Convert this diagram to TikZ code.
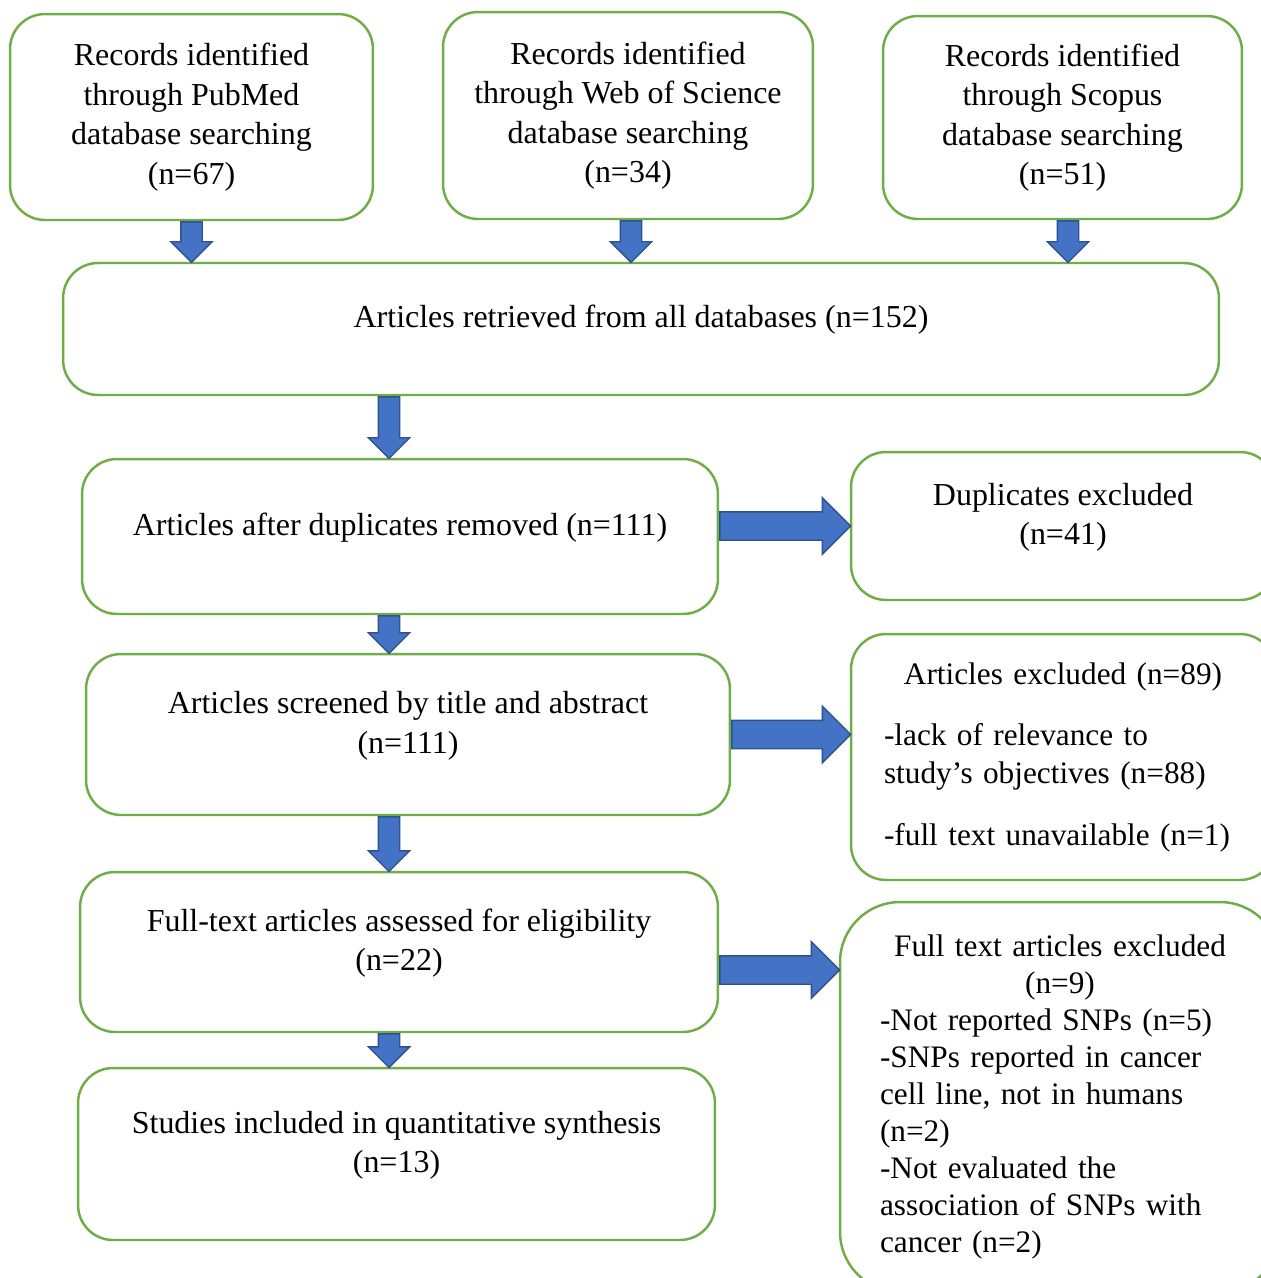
\documentclass[tikz,border=0pt]{standalone}
\usepackage{fontspec}
\setmainfont{Liberation Serif}
\usetikzlibrary{shapes.arrows, calc, positioning}

\definecolor{boxgreen}{HTML}{70AD47}
\definecolor{arrblue}{HTML}{4472C4}
\definecolor{arredge}{HTML}{2F528F}

\tikzset{
  box/.style={draw=boxgreen, line width=1.4pt, rounded corners=0.7cm, align=center, inner sep=0pt},
  lifted/.style={text depth=14pt},
  smallarrow/.style={single arrow, draw=arredge, fill=arrblue, line width=0.8pt, inner sep=0pt,
    text height=0.2cm, text depth=0.2cm, minimum width=0.8cm, single arrow head extend=0.2cm},
  bigarrow/.style={smallarrow, text height=0.27cm, text depth=0.27cm,
    minimum width=1.1cm, single arrow head extend=0.28cm},
}

% block arrow between two named points
\newcommand{\blockarrow}[3][smallarrow]{%
  \path let \p1=($(#3)-(#2)$), \n1={veclen(\x1,\y1)} in
    (#2) -- (#3) node[#1, pos=0, anchor=tail, sloped, allow upside down, minimum height=\n1] {};}

\begin{document}
\begin{tikzpicture}[x=0.02cm, y=-0.02cm, font=\fontsize{18.2}{22.5}\selectfont]
  \clip (0,0) rectangle (1261,1278);

  % databases
  \node[box, minimum width=7.26cm, minimum height=4.12cm] (pubmed) at (191.5,117)
    {Records identified\\through PubMed\\database searching\\(n=67)};
  \node[box, minimum width=7.4cm, minimum height=4.14cm] (wos) at (628,115.5)
    {Records identified\\through Web of Science\\database searching\\(n=34)};
  \node[box, minimum width=7.18cm, minimum height=4.06cm] (scopus) at (1062.5,117.5)
    {Records identified\\through Scopus\\database searching\\(n=51)};
  \node[box, lifted, minimum width=23.12cm, minimum height=2.64cm] (all) at (641,329)
    {Articles retrieved from all databases (n=152)};

  % main column
  \node[box, lifted, minimum width=12.72cm, minimum height=3.1cm] (dupr) at (400,536.5)
    {Articles after duplicates removed (n=111)};
  \node[box, lifted, minimum width=12.88cm, minimum height=3.22cm] (screen) at (408,734.5)
    {Articles screened by title and abstract\\(n=111)};
  \node[box, lifted, minimum width=12.76cm, minimum height=3.2cm] (full) at (399,952)
    {Full-text articles assessed for eligibility\\(n=22)};
  \node[box, lifted, minimum width=12.74cm, minimum height=3.44cm] (incl) at (396.5,1154)
    {Studies included in quantitative synthesis\\(n=13)};

  % exclusions
  \node[box, lifted, minimum width=8.48cm, minimum height=2.96cm] (dupx) at (1063,526)
    {Duplicates excluded\\(n=41)};
  \node[box, minimum width=8.48cm, minimum height=4.92cm, text width=7.16cm, align=left,
        font=\fontsize{17.8}{22}\selectfont] (artx) at (1063,757)
    {\noindent\makebox[\hsize]{Articles excluded (n=89)}\\[0.45cm]
     -lack of relevance to\\study’s objectives (n=88)\\[0.45cm]
     -full text unavailable (n=1)};
  \node[box, rounded corners=1.2cm, minimum width=8.8cm, minimum height=7.8cm, text width=7.2cm, align=left,
        font=\fontsize{17.8}{21}\selectfont] (ftx) at (1060,1097)
    {\noindent\makebox[\hsize]{Full text articles excluded}\\
     \makebox[\hsize]{(n=9)}\\
     -Not reported SNPs (n=5)\\
     -SNPs reported in cancer\\
     cell line, not in humans\\
     (n=2)\\
     -Not evaluated the\\
     association of SNPs with\\
     cancer (n=2)};

  % arrows
  \coordinate (spine) at (389,0);
  \coordinate (wosout) at ([xshift=0.06cm]wos.south);
  \coordinate (scopusout) at ([xshift=0.11cm]scopus.south);
  \coordinate (r3) at ([yshift=-0.36cm]full.east);
  \blockarrow{pubmed.south}{pubmed.south |- all.north}
  \blockarrow{wosout}{wosout |- all.north}
  \blockarrow{scopusout}{scopusout |- all.north}
  \blockarrow{spine |- all.south}{spine |- dupr.north}
  \blockarrow{spine |- dupr.south}{spine |- screen.north}
  \blockarrow{spine |- screen.south}{spine |- full.north}
  \blockarrow{spine |- full.south}{spine |- incl.north}
  \blockarrow[bigarrow]{dupr.east |- dupx.west}{dupx.west}
  \blockarrow[bigarrow]{screen.east}{artx.west |- screen.east}
  \blockarrow[bigarrow]{r3}{ftx.west |- r3}
\end{tikzpicture}
\end{document}
